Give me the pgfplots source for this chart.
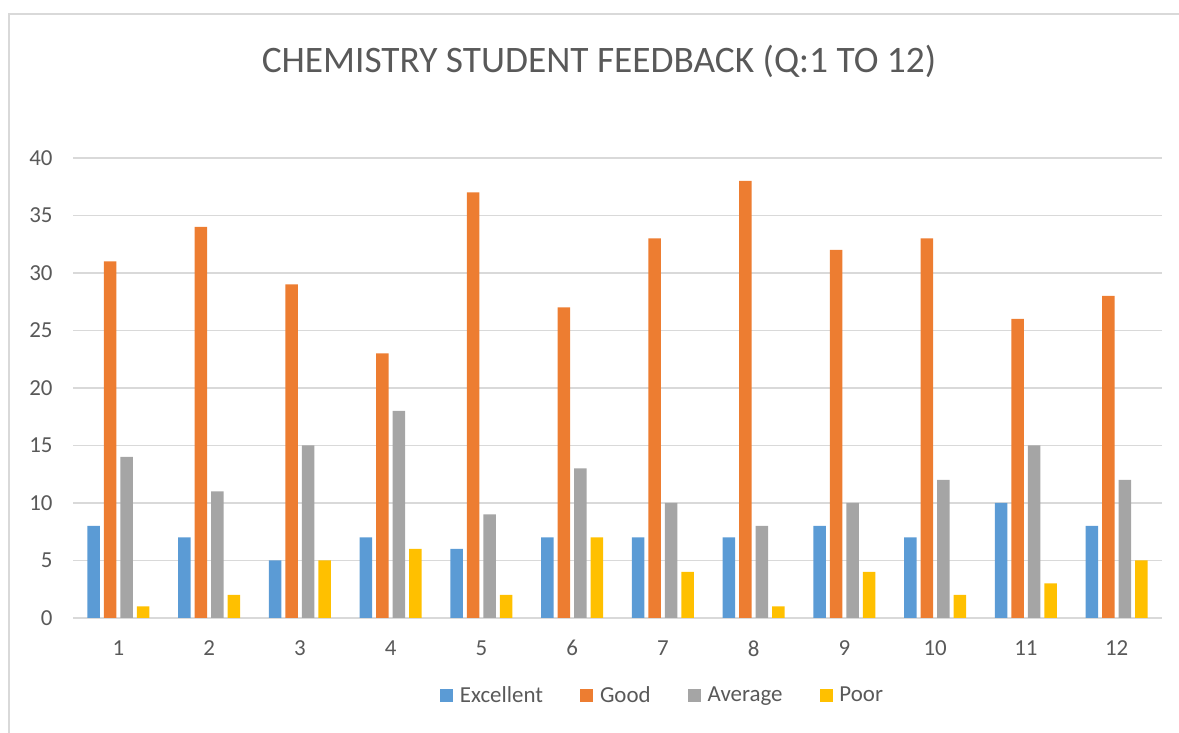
\documentclass[border=0pt]{standalone}
\usepackage{pgfplots}
\pgfplotsset{compat=1.18}
\usepackage{fontspec}
\setmainfont{Carlito}

\definecolor{cblue}{HTML}{5B9BD5}
\definecolor{corange}{HTML}{ED7D31}
\definecolor{cgray}{HTML}{A5A5A5}
\definecolor{cgold}{HTML}{FFC000}
\definecolor{txt}{HTML}{595959}
\definecolor{gridc}{HTML}{D9D9D9}

\pgfplotsset{
  sqlegend/.style={legend image code/.code={\fill[##1] (0bp,-6.5bp) rectangle (13bp,6.5bp);}},
}

\begin{document}
\begin{tikzpicture}
\path[use as bounding box] (0,0) rectangle (1179bp,733bp);
\draw[gridc, line width=2bp] (9bp,0) -- (9bp,719bp) -- (1179bp,719bp);
\node[txt, font=\fontsize{37.5}{44}\selectfont, anchor=center] at (599bp,672bp)
  {CHEMISTRY STUDENT FEEDBACK (Q:1 TO 12)};

\begin{axis}[
  at={(73bp,115bp)}, anchor=south west,
  scale only axis,
  width=1089bp, height=460bp,
  xmin=0.5, xmax=12.5,
  ymin=0, ymax=40,
  ytick distance=5,
  xtick={1,...,12},
  ybar=3.8bp,
  bar width=12.7bp,
  ymajorgrids=true,
  grid style={gridc, line width=1.5bp},
  axis x line*=bottom,
  axis y line*=left,
  y axis line style={draw=none},
  x axis line style={gridc, line width=1.5bp, -},
  major tick length=0pt,
  tick label style={txt, font=\fontsize{23}{26}\selectfont},
  xticklabel style={yshift=-19bp},
  yticklabel style={xshift=-17bp},
  /pgf/number format/assume math mode=true,
  legend columns=-1,
  legend style={draw=none, at={(0.5413,-0.1674)}, anchor=center,
    font=\fontsize{23}{26}\selectfont, text=txt,
    /tikz/every even column/.append style={column sep=35bp},
    /tikz/every odd column/.append style={column sep=5bp},
    legend cell align=left},
  every axis plot/.append style={draw=none, sqlegend},
]
\addplot[fill=cblue] coordinates {(1,8) (2,7) (3,5) (4,7) (5,6) (6,7) (7,7) (8,7) (9,8) (10,7) (11,10) (12,8)};
\addplot[fill=corange] coordinates {(1,31) (2,34) (3,29) (4,23) (5,37) (6,27) (7,33) (8,38) (9,32) (10,33) (11,26) (12,28)};
\addplot[fill=cgray] coordinates {(1,14) (2,11) (3,15) (4,18) (5,9) (6,13) (7,10) (8,8) (9,10) (10,12) (11,15) (12,12)};
\addplot[fill=cgold] coordinates {(1,1) (2,2) (3,5) (4,6) (5,2) (6,7) (7,4) (8,1) (9,4) (10,2) (11,3) (12,5)};
\legend{Excellent, Good, Average, Poor}
\end{axis}
\end{tikzpicture}
\end{document}
